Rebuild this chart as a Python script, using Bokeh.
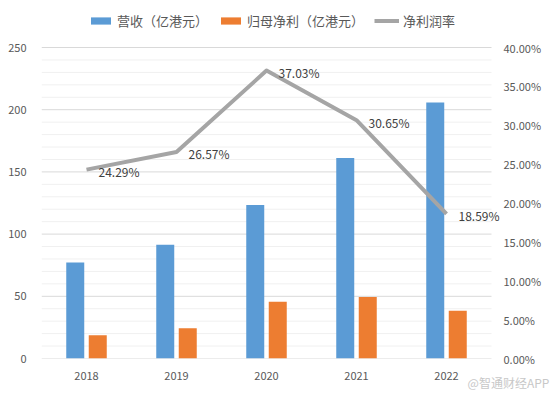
from bokeh.plotting import figure
from bokeh.models import (ColumnDataSource, Range1d, LinearAxis, Legend, LegendItem,
                          FixedTicker, NumeralTickFormatter, LabelSet)
from bokeh.core.properties import value
from bokeh.transform import dodge
from bokeh.embed import file_html
from bokeh.resources import INLINE

years = ["2018", "2019", "2020", "2021", "2022"]
revenue = [77.1, 91.5, 123.4, 161.2, 205.8]
net_profit = [18.7, 24.3, 45.7, 49.4, 38.3]
margin = [0.2429, 0.2657, 0.3703, 0.3065, 0.1859]
margin_labels = ["24.29%", "26.57%", "37.03%", "30.65%", "18.59%"]
left_ticks = [0, 50, 100, 150, 200, 250]
minor_ticks = [10, 20, 30, 40, 60, 70, 80, 90, 110, 120, 130, 140, 160, 170, 180, 190,
               210, 220, 230, 240]
right_ticks = [0, 0.05, 0.1, 0.15, 0.2, 0.25, 0.3, 0.35, 0.4]
watermark = "@智通财经APP"

FONT = "Noto Sans CJK SC"
TXT = "#595959"

idx = list(range(len(years)))

# frame geometry: axis maxima (250 / 40%) sit 311px above the baseline,
# the frame reaches higher so the legend fits inside it
FRAME_H = 353
AX_H = 311
y_end = left_ticks[-1] * FRAME_H / AX_H
y2_end = right_ticks[-1] * FRAME_H / AX_H
x_start = -0.5
x_end = -0.5 + 467 / 90  # a little room right of the last category for its label

src = ColumnDataSource(dict(x=idx, year=years, revenue=revenue, net=net_profit,
                            margin=margin, mlab=margin_labels))
grid_major = ColumnDataSource(dict(y=left_ticks))
grid_minor = ColumnDataSource(dict(y=minor_ticks))

p = figure(x_range=Range1d(x_start, x_end), y_range=Range1d(0, y_end),
           width=554, height=395,
           output_backend="svg", toolbar_location=None,
           min_border_left=41, min_border_right=46, min_border_top=5, min_border_bottom=37)
p.outline_line_color = None
p.extra_y_ranges = {"pct": Range1d(0, y2_end)}
p.xgrid.grid_line_color = None
p.ygrid.grid_line_color = None

# horizontal gridlines limited to the category span
gl_x0 = x_start
gl_x1 = len(years) - 0.5
p.segment(x0=gl_x0, x1=gl_x1, y0="y", y1="y", source=grid_minor,
          line_color="#f0f0f0", line_width=1, level="underlay")
p.segment(x0=gl_x0, x1=gl_x1, y0="y", y1="y", source=grid_major,
          line_color="#d9d9d9", line_width=1, level="underlay")

r1 = p.vbar(x=dodge("x", -0.125), top="revenue", width=0.2,
            source=src, color="#5B9BD5", line_color=None)
r2 = p.vbar(x=dodge("x", 0.125), top="net", width=0.2,
            source=src, color="#ED7D31", line_color=None)
r3 = p.line(x="x", y="margin", source=src, y_range_name="pct",
            line_color="#A5A5A5", line_width=4, line_join="round")

labels = LabelSet(x="x", y="margin", text="mlab", source=src, y_range_name="pct",
                  x_offset=12, y_offset=-2, text_baseline="middle", text_align="left",
                  text_font=value(FONT), text_font_size="12px", text_color="#404040")
p.add_layout(labels)

# left axis
p.yaxis.ticker = FixedTicker(ticks=left_ticks)
p.yaxis.axis_line_color = None
p.yaxis.major_tick_line_color = None
p.yaxis.minor_tick_line_color = None
p.yaxis.major_label_text_font = FONT
p.yaxis.major_label_text_font_size = "11px"
p.yaxis.major_label_text_color = TXT
p.yaxis.major_label_standoff = 9

# right axis
ax2 = LinearAxis(y_range_name="pct", ticker=FixedTicker(ticks=right_ticks),
                 formatter=NumeralTickFormatter(format="0.00%"))
ax2.axis_line_color = None
ax2.major_tick_line_color = None
ax2.minor_tick_line_color = None
ax2.major_label_text_font = FONT
ax2.major_label_text_font_size = "11px"
ax2.major_label_text_color = TXT
ax2.major_label_standoff = -11
p.add_layout(ax2, "right")

# bottom axis
xa = p.xaxis[0]
xa.ticker = FixedTicker(ticks=idx)
xa.major_label_overrides = {i: y for i, y in zip(idx, years)}
xa.axis_line_color = None
xa.major_tick_line_color = None
xa.minor_tick_line_color = None
xa.major_label_text_font = FONT
xa.major_label_text_font_size = "11px"
xa.major_label_text_color = TXT
xa.major_label_standoff = 7
xa.axis_label = watermark
xa.axis_label_text_font = FONT
xa.axis_label_text_font_size = "12px"
xa.axis_label_text_font_style = "normal"
xa.axis_label_text_color = "#c8c8c8"
xa.axis_label_standoff = -9
xa.axis_label_align = "end"

legend = Legend(items=[
    LegendItem(label="营收（亿港元）", renderers=[r1]),
    LegendItem(label="归母净利（亿港元）", renderers=[r2]),
    LegendItem(label="净利润率", renderers=[r3]),
], orientation="horizontal", location=(47, 328))
legend.label_text_font = FONT
legend.label_text_font_size = "13px"
legend.label_text_color = TXT
legend.glyph_width = 25
legend.glyph_height = 9
legend.label_standoff = 4
legend.spacing = 10
legend.padding = 0
legend.margin = 0
legend.border_line_color = None
legend.background_fill_alpha = 0
p.add_layout(legend)

open("out.html", "w").write(file_html(p, INLINE))
